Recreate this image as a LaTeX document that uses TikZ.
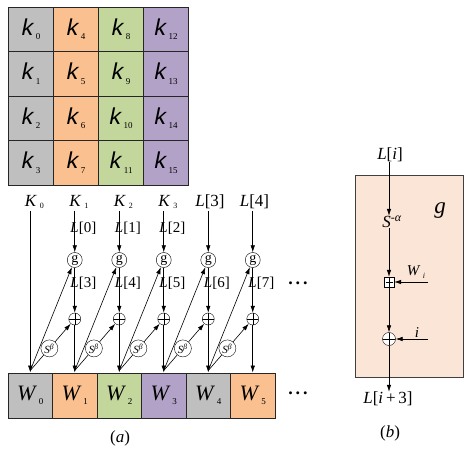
\documentclass[tikz,border=0pt]{standalone}
\usepackage{fontspec}
\setmainfont{Liberation Serif}
\newfontfamily\keyfont[FakeSlant=0.2]{Liberation Sans}
\usetikzlibrary{arrows.meta,shapes,positioning,calc}
\definecolor{keygray}{HTML}{BFBFBF}
\definecolor{keyorange}{HTML}{FAC090}
\definecolor{keygreen}{HTML}{C3D69B}
\definecolor{keypurple}{HTML}{B3A2C7}
\definecolor{gfill}{HTML}{FBE5D6}
\newcommand{\idx}[2][9]{\,\raisebox{-0.35ex}{\fontsize{#1}{#1}\selectfont #2}}
\tikzset{
    key-cell/.style={
        draw=black!85,
        line width=0.9pt,
        minimum width=45pt,
        minimum height=44.5pt,
        inner sep=0pt,
        font=\fontsize{23}{23}\selectfont\keyfont
    },
    word-cell/.style={
        key-cell,
        minimum width=44.5pt,
        minimum height=45pt,
        font=\fontsize{22}{22}\selectfont\itshape
    },
    g-point/.style={
        circle,
        draw=black,
        fill=white,
        minimum size=15pt,
        inner sep=0pt,
        font=\fontsize{14}{14}\selectfont
    },
    xor-point/.style={
        circle,
        draw=black,
        fill=white,
        minimum size=12pt,
        inner sep=0pt,
        path picture={\draw (path picture bounding box.north) -- (path picture bounding box.south)
            (path picture bounding box.west) -- (path picture bounding box.east);}
    },
    add-point/.style={
        rectangle,
        draw=black,
        fill=white,
        minimum size=10pt,
        inner sep=0pt,
        path picture={\draw[shorten >=1.5pt,shorten <=1.5pt] (path picture bounding box.north) -- (path picture bounding box.south)
            (path picture bounding box.west) -- (path picture bounding box.east);}
    },
    rot-point/.style={
        circle,
        draw=black,
        fill=white,
        minimum size=17pt,
        inner sep=0pt,
        font=\fontsize{11}{11}\selectfont
    },
    lbl/.style={
        inner sep=0pt,
        font=\fontsize{17}{17}\selectfont
    },
    mid-lbl/.style={
        lbl,
        anchor=west,
        font=\fontsize{15}{15}\selectfont
    },
    every edge/.style={
        draw,
        >={Latex[length=7pt,width=4.5pt]},
        semithick
    }
}
\begin{document}
\begin{tikzpicture}[x=1pt,y=-1pt]
    \useasboundingbox (0,0) rectangle (474,449);

    % key matrix
    \foreach \c/\col in {0/keygray,1/keyorange,2/keygreen,3/keypurple}
        \foreach \r in {0,...,3} {
            \pgfmathtruncatemacro\n{4*\c+\r}
            \node[key-cell,fill=\col] (k\n) at (30.5+45*\c,29.25+44.5*\r) {k\idx{\rmfamily\upshape\n}};
        }

    % words
    \foreach \i/\col in {0/keygray,1/keyorange,2/keygreen,3/keypurple,4/keygray,5/keyorange}
        \node[word-cell,fill=\col] (w\i) at (30.25+44.5*\i,395.5) {W\idx{\upshape\i}};

    % column heads
    \node[lbl] (top0) at (31,202) {\textit{K}\rlap{\idx[8]{0}}};
    \node[lbl] (top1) at (75.5,202) {\textit{K}\rlap{\idx[8]{1}}};
    \node[lbl] (top2) at (120,202) {\textit{K}\rlap{\idx[8]{2}}};
    \node[lbl] (top3) at (164.5,202) {\textit{K}\rlap{\idx[8]{3}}};
    \node[lbl] (top4) at (210,202) {\textit{L}[3]};
    \node[lbl] (top5) at (254.5,202) {\textit{L}[4]};

    \foreach \i in {1,...,5} {
        \node[g-point] (g\i) at (30.25+44.5*\i,260) {g};
        \node[xor-point] (x\i) at (30.25+44.5*\i,319) {};
    }

    \draw (w0.north |- 0,211) edge[->] (w0.north);
    \foreach \i in {1,...,5} {
        \draw (g\i |- 0,211) edge[->] (g\i);
        \draw (g\i) edge[->] (x\i);
        \draw (x\i) edge[->] (w\i.north);
    }

    % labels on the lines
    \node[mid-lbl] (l0) at (70.25,228) {\textit{L}[0]};
    \node[mid-lbl] (l1) at (114.75,228) {\textit{L}[1]};
    \node[mid-lbl] (l2) at (159.25,228) {\textit{L}[2]};
    \node[mid-lbl] (l3) at (70.25,283) {\textit{L}[3]};
    \node[mid-lbl] (l4) at (114.75,283) {\textit{L}[4]};
    \node[mid-lbl] (l5) at (159.25,283) {\textit{L}[5]};
    \node[mid-lbl] (l6) at (203.75,283) {\textit{L}[6]};
    \node[mid-lbl] (l7) at (248.25,283) {\textit{L}[7]};

    % feedback from the words
    \foreach \i [evaluate=\i as \j using int(\i+1)] in {0,...,4} {
        \coordinate (b\i) at ([yshift=2pt]w\i.north);
        \node[rot-point] (s\i) at ($(b\i)!0.43!(x\j)$) {\textit{S}\textsuperscript{\textit{β}}};
        \draw (b\i) edge[->] (g\j);
        \draw (b\i) edge (s\i);
        \draw (s\i) edge[->] (x\j);
    }

    \node[lbl,font=\fontsize{18}{18}\selectfont\bfseries] (more1) at (298,283) {.\,.\,.};
    \node[lbl,font=\fontsize{18}{18}\selectfont\bfseries] (more2) at (298,393) {.\,.\,.};
    \node[lbl] (cap-a) at (120,438) {(\textit{a})};

    % the g function
    \node[draw=black!75,fill=gfill,line width=0.9pt,minimum width=108pt,minimum height=202pt] (gbox) at (409,276) {};
    \node[lbl,font=\fontsize{23}{23}\selectfont\itshape] (gname) at (440,211) {g};
    \node[lbl] (li) at (390,155) {\textit{L}[\textit{i}]};
    \node[lbl] (sa) at (392,222) {\textit{S}\textsuperscript{-\textit{α}}};
    \node[add-point] (ad) at (389,282) {};
    \node[xor-point,minimum size=13pt] (xr) at (389,339) {};
    \node[lbl] (lo) at (388,399) {\textit{L}[\textit{i}\,+\,3]};
    \node[lbl,font=\fontsize{15}{15}\selectfont] (wi) at (416,272) {\textit{W}\idx[8]{\textit{i}}};
    \node[lbl,font=\fontsize{15}{15}\selectfont\itshape] (iv) at (417,333) {i};
    \coordinate (wi-in) at (428,282);
    \coordinate (iv-in) at (428,339);

    \draw (li.south -| ad) edge[->] (sa.north -| ad);
    \draw (sa.south -| ad) edge[->] (ad);
    \draw (ad) edge[->] (xr);
    \draw (wi-in) edge[->] (ad);
    \draw (iv-in) edge[->] (xr);
    \draw (xr) edge[->] (lo.north -| xr);
    \node[lbl] (cap-b) at (390,433) {(\textit{b})};
\end{tikzpicture}
\end{document}
